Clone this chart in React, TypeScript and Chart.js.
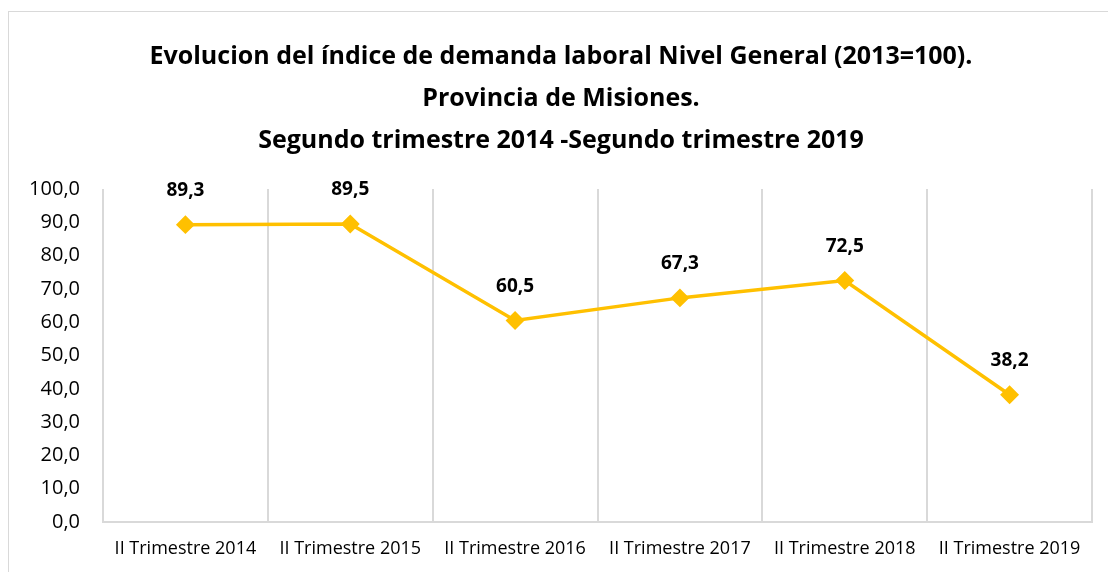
import React, { useEffect, useRef } from "react";
import { Chart, registerables } from "chart.js";

Chart.register(...registerables);

const categories = [
  "II Trimestre 2014",
  "II Trimestre 2015",
  "II Trimestre 2016",
  "II Trimestre 2017",
  "II Trimestre 2018",
  "II Trimestre 2019",
];
const values = [89.3, 89.5, 60.5, 67.3, 72.5, 38.2];
const titleLines = [
  "Evolucion del índice de demanda laboral Nivel General (2013=100).",
  "Provincia de Misiones.",
  "Segundo trimestre 2014 -Segundo trimestre 2019",
];

const FONT = "'Open Sans'";
const fmt = (v: number) => v.toFixed(1).replace(".", ",");

const labelPlugin = {
  id: "valueLabels",
  afterDatasetsDraw(chart: any) {
    const ctx = chart.ctx;
    const meta = chart.getDatasetMeta(0);
    ctx.save();
    ctx.font = `bold 19px ${FONT}`;
    ctx.fillStyle = "#000";
    ctx.textAlign = "center";
    ctx.textBaseline = "middle";
    meta.data.forEach((pt: any, i: number) => {
      ctx.fillText(fmt(values[i]), pt.x, pt.y - 34);
    });
    ctx.restore();
  },
};

export default function App() {
  const ref = useRef<HTMLCanvasElement>(null);
  useEffect(() => {
    const chart = new Chart(ref.current!, {
      type: "line",
      data: {
        labels: categories,
        datasets: [
          {
            data: values,
            borderColor: "#FFC000",
            backgroundColor: "#FFC000",
            borderWidth: 3.5,
            pointStyle: "rectRot",
            pointRadius: 7,
            pointHoverRadius: 7,
            tension: 0,
          },
        ],
      },
      options: {
        responsive: false,
        animation: false,
        layout: { padding: { left: 30, right: 16, top: 0, bottom: 0 } },
        plugins: {
          legend: { display: false },
          tooltip: { enabled: false },
          title: {
            display: true,
            text: titleLines,
            color: "#000",
            font: { family: FONT, size: 25, weight: "bold", lineHeight: 1.68 },
            padding: { top: 36, bottom: 27 },
          },
        },
        scales: {
          x: {
            offset: true,
            grid: {
              display: true,
              offset: true,
              color: "#d9d9d9",
              lineWidth: 2,
              drawTicks: false,
            },
            border: { display: true, color: "#d9d9d9", width: 2 },
            ticks: {
              color: "#000",
              font: { family: FONT, size: 18 },
              padding: 16,
              maxRotation: 0,
              autoSkip: false,
            },
            afterFit(scale: any) {
              scale.height = 50;
            },
          },
          y: {
            min: 0,
            max: 100,
            grid: { display: false },
            border: { display: false },
            ticks: {
              stepSize: 10,
              color: "#000",
              font: { family: FONT, size: 20 },
              padding: 15,
              callback: (v: any) => fmt(Number(v)),
            },
            afterFit(scale: any) {
              scale.width = 73;
            },
          },
        },
      },
      plugins: [labelPlugin],
    });
    return () => chart.destroy();
  }, []);
  return (
    <div
      style={{
        position: "fixed",
        left: 0,
        top: 0,
        width: 1108,
        height: 572,
        overflow: "hidden",
        background: "#fff",
      }}
    >
      <div
        style={{
          position: "absolute",
          left: 8,
          top: 11,
          width: 1200,
          height: 700,
          border: "1px solid #d9d9d9",
        }}
      />
      <canvas
        ref={ref}
        width={1108}
        height={572}
        style={{ position: "absolute", left: 0, top: 0 }}
      />
    </div>
  );
}
